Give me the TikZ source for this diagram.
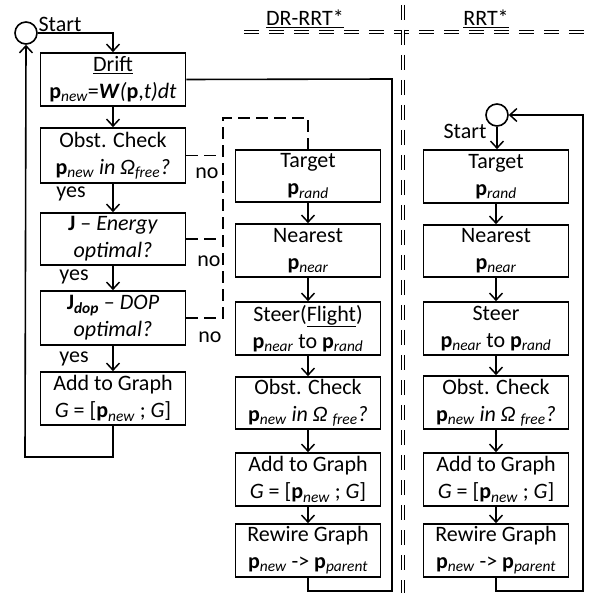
\documentclass[tikz,border=0pt]{standalone}
\usepackage{fontspec}
\setmainfont{Carlito}
\usetikzlibrary{arrows.meta}
\newcommand\pvec[1]{\textbf{p}\textsubscript{\itshape #1}}
\begin{document}
\begin{tikzpicture}[x=1pt,y=-1pt,
  font=\fontsize{22}{27}\selectfont,
  box/.style={draw,line width=1.7pt,minimum width=145pt,minimum height=53pt,align=center,inner sep=0pt},
  flow/.style={line width=1.6pt,-{Straight Barb[length=7pt,width=13pt,line width=1.5pt]}},
  loop/.style={line width=1.6pt},
  dsh/.style={line width=1.7pt,dash pattern=on 12pt off 6pt},
  sep/.style={double,double distance=1.8pt,line width=1pt,dash pattern=on 15pt off 10pt},
  lbl/.style={inner sep=0pt}]
\useasboundingbox (0,0) rectangle (602,593);
% separators
\draw[sep] (244,32) -- (590,32);
\draw[sep] (403,5) -- (403,593);
\node[lbl] (hdr1) at (305,19) {\underline{DR-RRT*}};
\node[lbl] (hdr2) at (486,19) {\underline{RRT*}};
% left column
\node[draw,circle,line width=1.6pt,minimum size=22pt,inner sep=0pt] (s1) at (26,33) {};
\node[lbl] (st1) at (60,24) {Start};
\node[box] (drift) at (113,79.5) {\underline{Drift}\\\pvec{new}=\textbf{\textit{W}}\textit{(}\textbf{p},\textit{t)dt}};
\node[box,minimum height=55pt] (ob1) at (113,155.5) {Obst. Check\\\pvec{new} \textit{in Ω\textsubscript{free}?}};
\node[box,minimum height=52pt] (en) at (113,239) {\textbf{J} – \textit{Energy}\\\textit{optimal?}};
\node[box,minimum height=54pt] (dop) at (113,318) {\textbf{J}\textsubscript{\textbf{\textit{dop}}} – \textit{DOP}\\\textit{optimal?}};
\node[box] (ad1) at (113,398.5) {Add to Graph\\\textit{G} = [\pvec{new} ; \textit{G}]};
\coordinate (c1) at (113,33);
\draw[flow] (s1.east) -- (c1) -- (drift.north);
\draw[flow] (drift) -- (ob1);
\draw[flow] (ob1) -- (en);
\draw[flow] (en) -- (dop);
\draw[flow] (dop) -- (ad1);
\coordinate (l1) at (113,457);
\coordinate (l2) at (25,457);
\draw[flow] (ad1.south) -- (l1) -- (l2) -- (s1.south);
\node[lbl] (y1) at (71,194) {yes};
\node[lbl] (y2) at (74,277) {yes};
\node[lbl] (y3) at (74,359) {yes};
\node[lbl] (n1) at (207,173) {no};
\node[lbl] (n2) at (209,261) {no};
\node[lbl] (n3) at (210,337) {no};
% middle column
\node[box,minimum height=52pt] (ta2) at (308,176) {Target\\\pvec{rand}};
\node[box] (ne2) at (308,250.5) {Nearest\\\pvec{near}};
\node[box] (se2) at (308,328.5) {Steer(\underline{Flight})\\\pvec{near} to \pvec{rand}};
\node[box,minimum height=52pt] (ob2) at (308,403) {Obst. Check\\\pvec{new} \textit{in Ω \textsubscript{free}?}};
\node[box] (ad2) at (308,479.5) {Add to Graph\\\textit{G} = [\pvec{new} ; \textit{G}]};
\node[box] (re2) at (308,550.5) {Rewire Graph\\\pvec{new} -> \pvec{parent}};
\draw[flow] (ta2) -- (ne2);
\draw[flow] (ne2) -- (se2);
\draw[flow] (se2) -- (ob2);
\draw[flow] (ob2) -- (ad2);
\draw[flow] (ad2) -- (re2);
\coordinate (m1) at (308,591);
\coordinate (m2) at (392,591);
\coordinate (m3) at (392,79);
\draw[loop] (re2.south) -- (m1) -- (m2) -- (m3) -- (drift.east);
% dashed "no" paths
\coordinate (d1) at (223,155.5);
\coordinate (d2) at (223,239);
\coordinate (d3) at (223,318);
\coordinate (d4) at (223,118);
\coordinate (d5) at (308,118);
\draw[dsh] (ob1.east) -- (d1);
\draw[dsh] (en.east) -- (d2);
\draw[dsh] (dop.east) -- (d3) -- (d4) -- (d5) -- (ta2.north);
% right column
\node[draw,circle,line width=1.6pt,minimum size=22pt,inner sep=0pt] (s2) at (497,115) {};
\node[lbl] (st2) at (465,131) {Start};
\node[box,minimum height=53pt] (ta3) at (496,176.5) {Target\\\pvec{rand}};
\node[box,minimum height=52pt] (ne3) at (496,251) {Nearest\\\pvec{near}};
\node[box] (se3) at (496,328.5) {Steer\\\pvec{near} to \pvec{rand}};
\node[box] (ob3) at (496,402.5) {Obst. Check\\\pvec{new} \textit{in Ω \textsubscript{free}?}};
\node[box] (ad3) at (496,479.5) {Add to Graph\\\textit{G} = [\pvec{new} ; \textit{G}]};
\node[box] (re3) at (496,550.5) {Rewire Graph\\\pvec{new} -> \pvec{parent}};
\draw[flow] (s2.south) -- (s2.south |- ta3.north);
\draw[flow] (ta3) -- (ne3);
\draw[flow] (ne3) -- (se3);
\draw[flow] (se3) -- (ob3);
\draw[flow] (ob3) -- (ad3);
\draw[flow] (ad3) -- (re3);
\coordinate (r1) at (496,591);
\coordinate (r2) at (583,591);
\coordinate (r3) at (583,115);
\draw[flow] (re3.south) -- (r1) -- (r2) -- (r3) -- (s2.east);
\end{tikzpicture}
\end{document}
